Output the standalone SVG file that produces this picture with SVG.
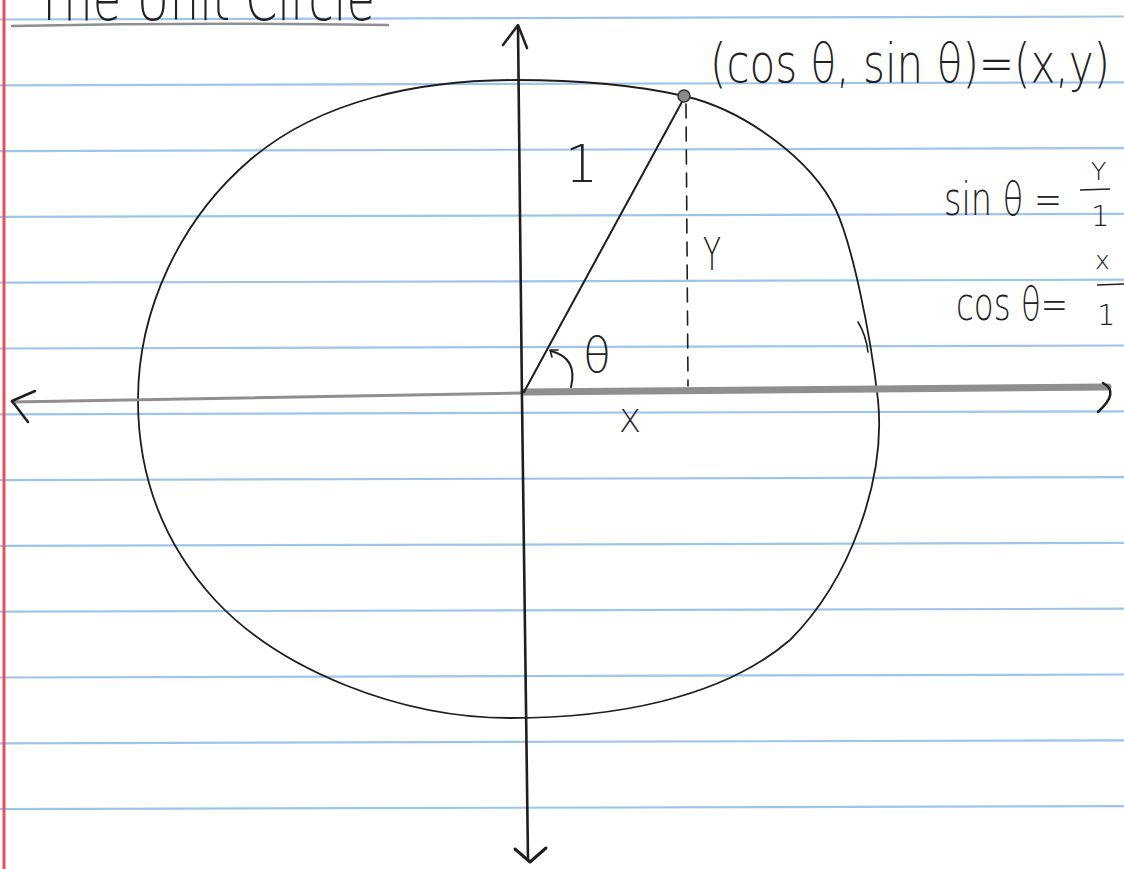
<svg xmlns="http://www.w3.org/2000/svg" width="1124" height="869" viewBox="0 0 1124 869">
<style>
.rule{stroke:#9fc4ea;stroke-width:2.2}
.ink{fill:none;stroke:#1e1e1e;stroke-linecap:round;stroke-linejoin:round}
.pencil{fill:none;stroke:#8f8f8f;stroke-linecap:round}
.hand{font-family:"DejaVu Sans","Liberation Sans",sans-serif;font-weight:200;fill:#222}
</style>
<rect width="1124" height="869" fill="#ffffff"/>
<g id="paper">
<line class="rule" x1="0" y1="19.5" x2="1124" y2="16.5"/>
<line class="rule" x1="0" y1="85.3" x2="1124" y2="82.3"/>
<line class="rule" x1="0" y1="151.1" x2="1124" y2="148.1"/>
<line class="rule" x1="0" y1="216.9" x2="1124" y2="213.9"/>
<line class="rule" x1="0" y1="282.7" x2="1124" y2="279.7"/>
<line class="rule" x1="0" y1="348.5" x2="1124" y2="345.5"/>
<line class="rule" x1="0" y1="414.3" x2="1124" y2="411.3"/>
<line class="rule" x1="0" y1="480.1" x2="1124" y2="477.1"/>
<line class="rule" x1="0" y1="545.9" x2="1124" y2="542.9"/>
<line class="rule" x1="0" y1="611.7" x2="1124" y2="608.7"/>
<line class="rule" x1="0" y1="677.5" x2="1124" y2="674.5"/>
<line class="rule" x1="0" y1="743.3" x2="1124" y2="740.3"/>
<line class="rule" x1="0" y1="809.1" x2="1124" y2="806.1"/>
<line x1="4" y1="0" x2="4" y2="869" stroke="#e8505a" stroke-width="3"/>
</g>
<g id="title">
<text class="hand" x="35" y="20" font-size="62" textLength="340" lengthAdjust="spacingAndGlyphs">The Unit Circle</text>
<path class="pencil" d="M12 26 Q200 22 388 25" stroke="#6d6d6d" stroke-width="2.5"/>
</g>
<g id="circle">
<path class="ink" stroke-width="1.8" stroke="#333" d="M515 80 C580 80 640 86 684 96 C745 110 812 160 836 210 C852 245 870 330 878 400 C886 480 850 580 790 640 C720 700 610 718 510 718 C400 718 280 670 215 600 C160 540 138 470 138 400 C138 310 180 220 250 160 C320 100 420 80 515 80 Z"/>
<path class="ink" stroke-width="1.6" stroke="#444" d="M858 322 Q866 335 868 352"/>
</g>
<g id="connectors">
<path class="pencil" stroke="#9a9a9a" stroke-width="3" d="M12 402 L524 393"/>
<path class="pencil" stroke="#a8a8a8" stroke-width="7" d="M524 392 L1108 387"/>
<path class="ink" stroke="#333" stroke-width="2.5" d="M35 391 L12 401 L28 422"/>
<path class="ink" stroke="#333" stroke-width="2.5" d="M1103 383 Q1120 392 1098 412"/>
<path class="ink" stroke="#222" stroke-width="2.6" d="M518 27 L522 400 L528 860"/>
<path class="ink" stroke="#222" stroke-width="2.5" d="M503 45 L518 25 L527 48"/>
<path class="ink" stroke="#555" stroke-width="3" d="M515 849 L530 862 L546 848"/>
<path class="ink" stroke-width="2" d="M524 392 L683 100"/>
<path class="ink" stroke-width="1.6" stroke-dasharray="14 9" d="M686 104 L688 386"/>
<path class="ink" stroke-width="2" d="M571 387 Q578 358 551 351"/>
<path class="ink" stroke-width="1.6" d="M552 357 L550 350 L558 350"/>
</g>
<g id="point">
<circle cx="684" cy="96" r="6" fill="#8a8a8a" stroke="#333" stroke-width="1.5"/>
</g>
<g id="labels">
<text class="hand" x="565" y="182" font-size="52">1</text>
<text class="hand" x="703" y="270" font-size="44" textLength="18" lengthAdjust="spacingAndGlyphs">Y</text>
<text class="hand" x="583" y="372" font-size="48" textLength="28" lengthAdjust="spacingAndGlyphs">θ</text>
<text class="hand" x="619" y="432" font-size="32">X</text>
<text class="hand" x="710" y="82" font-size="54" textLength="400" lengthAdjust="spacingAndGlyphs">(cos θ, sin θ)=(x,y)</text>
<text class="hand" x="944" y="215" font-size="46" textLength="118" lengthAdjust="spacingAndGlyphs">sin θ =</text>
<text class="hand" x="1091" y="180" font-size="25">Y</text>
<line x1="1080" y1="190" x2="1110" y2="189" stroke="#222" stroke-width="1.6"/>
<text class="hand" x="1091" y="226" font-size="29">1</text>
<text class="hand" x="956" y="320" font-size="46" textLength="112" lengthAdjust="spacingAndGlyphs">cos θ=</text>
<text class="hand" x="1095" y="269" font-size="25">x</text>
<line x1="1097" y1="285" x2="1124" y2="284" stroke="#222" stroke-width="1.6"/>
<text class="hand" x="1097" y="325" font-size="29">1</text>
</g>
</svg>
